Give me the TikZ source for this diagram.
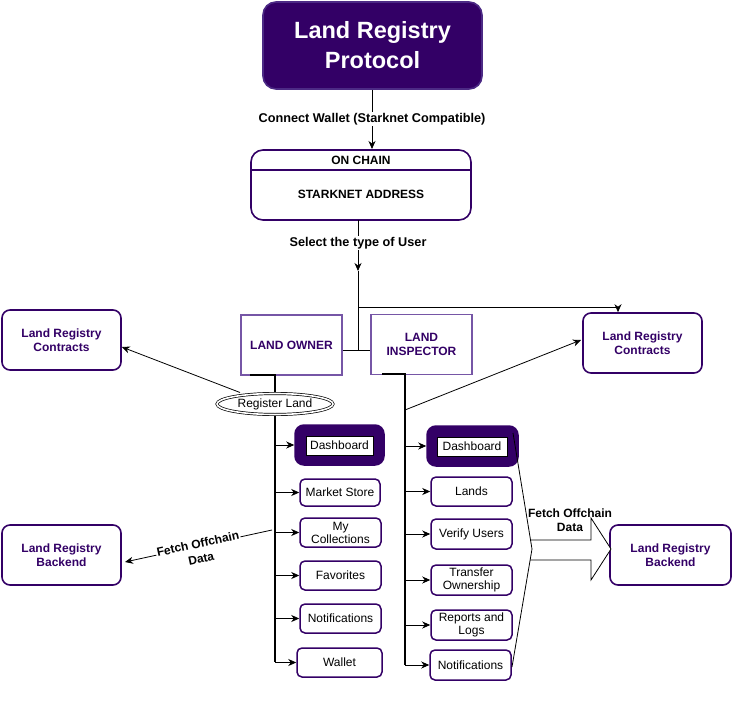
\documentclass[tikz,border=0pt]{standalone}
\usepackage{fontspec}
\setmainfont{Liberation Sans}
\usetikzlibrary{shapes.geometric,arrows.meta,calc}
\definecolor{dpurple}{HTML}{330066}
\definecolor{bpurple}{HTML}{4C2A85}
\definecolor{lpurple}{HTML}{7656A6}
\tikzset{
  box/.style={draw=dpurple,line width=1.6pt,rounded corners=8pt,fill=white,minimum width=#1,align=center,inner sep=1pt,text=dpurple,font=\bfseries\fontsize{12}{14.5}\selectfont},
  ubox/.style={draw=lpurple,line width=1.6pt,fill=white,minimum width=101,minimum height=60,align=center,inner sep=1pt,text=dpurple,font=\bfseries\fontsize{12}{14.5}\selectfont},
  item/.style={draw=dpurple,line width=1.5pt,rounded corners=5pt,fill=white,minimum width=#1,minimum height=29,align=center,inner sep=0pt,font=\fontsize{12}{14}\selectfont},
  dash/.style={draw=dpurple,line width=1.5pt,rounded corners=9pt,fill=dpurple,minimum width=#1,minimum height=40,inner sep=0pt},
  inner/.style={draw=black,line width=0.6pt,fill=white,minimum width=#1,minimum height=19,inner sep=0pt,font=\fontsize{12}{14}\selectfont},
  lbl/.style={font=\bfseries\fontsize{12.7}{14}\selectfont,fill=white,inner sep=1pt,align=center},
  arr/.style={-{Stealth[length=8pt,width=7pt,inset=2.5pt]},line width=0.8pt},
  spine/.style={line width=1.8pt},
}
\begin{document}
\begin{tikzpicture}[x=1pt,y=-1pt]
\useasboundingbox (0,0) rectangle (732,701);
% title
\node[draw=bpurple,line width=1.6pt,fill=dpurple,rounded corners=13pt,minimum width=219,minimum height=87,text=white,align=center,font=\bfseries\fontsize{23.5}{30}\selectfont] (title) at (372.5,45.5) {Land Registry\\Protocol};
% on chain
\node[draw=dpurple,line width=1.6pt,rounded corners=12pt,minimum width=220,minimum height=70] (oc) at (361,185) {};
\draw[dpurple,line width=1.6pt] (251,170) -- (471,170);
\node[font=\bfseries\fontsize{12}{14}\selectfont] (octitle) at (361,160) {ON CHAIN};
\node[font=\bfseries\fontsize{12}{14}\selectfont] (ocaddr) at (361,194.5) {STARKNET ADDRESS};
% title -> on chain
\draw[arr] (title.south -| 372,0) -- node[lbl] (cw) {Connect Wallet (Starknet Compatible)} (372,149);
% users
\node[ubox] (lo) at (291.5,345) {LAND OWNER};
\node[ubox] (li) at (421.5,344.5) {LAND\\INSPECTOR};
% contracts / backend
\node[box=119pt,minimum height=60] (lrcL) at (61.5,340) {Land Registry\\Contracts};
\node[box=119pt,minimum height=60] (lrcR) at (642.5,343) {Land Registry\\Contracts};
\node[box=119pt,minimum height=60] (lrbL) at (61.5,555) {Land Registry\\Backend};
\node[box=121pt,minimum height=60] (lrbR) at (670.5,555) {Land Registry\\Backend};
% select type
\coordinate (sel) at (358,271);
\coordinate (jn) at (358,350);
\draw[arr] (358,220) -- node[lbl,pos=0.45] (st) {Select the type of User} (sel);
\draw[line width=0.8pt] (sel) -- (jn);
\draw[line width=0.8pt] (lo.east |- jn) -- (li.west |- jn);
\draw[arr] (358,307) -| (lrcR.north -| 618,0);
% spines
\coordinate (sL) at (275,375);
\coordinate (sR) at (405,374);
\draw[spine] (250,375) -- (sL) -- (275,662);
\draw[spine] (382,374) -- (sR) -- (405,665);
% left items
\node[dash=89pt] (dashL) at (339.5,445) {};
\node[inner=67pt] (dashLi) at (339.5,445.5) {Dashboard};
\node[item=80pt,minimum height=27] (ms) at (340,492.5) {Market Store};
\node[item=81pt,font=\fontsize{12}{13}\selectfont] (mc) at (340.5,532.5) {My\\Collections};
\node[item=81pt] (fav) at (340.5,575.5) {Favorites};
\node[item=81pt] (notL) at (340.5,618.5) {Notifications};
\node[item=85pt] (wal) at (339.5,662.5) {Wallet};
\foreach \n in {dashL,ms,mc,fav,notL,wal}
  \draw[arr] (sL |- \n.west) -- (\n.west);
% right items
\node[dash=91pt] (dashR) at (472.5,446) {};
\node[inner=70pt] (dashRi) at (472,446.5) {Dashboard};
\node[item=81pt] (lands) at (471.5,491.5) {Lands};
\node[item=81pt,minimum height=30] (vu) at (471.5,534) {Verify Users};
\node[item=81pt,minimum height=30,font=\fontsize{12}{13}\selectfont] (to) at (471.5,580) {Transfer\\Ownership};
\node[item=81pt,minimum height=30,font=\fontsize{12}{13}\selectfont] (rl) at (471.5,625) {Reports and\\Logs};
\node[item=81pt,minimum height=30] (notR) at (470.5,665) {Notifications};
\foreach \n in {dashR,lands,vu,to,rl,notR}
  \draw[arr] (sR |- \n.west) -- (\n.west);
% register land
\node[draw,ellipse,double,double distance=1.6pt,line width=0.7pt,fill=white,minimum width=116,minimum height=21,inner sep=0pt,font=\fontsize{12}{14}\selectfont] (rland) at (275,404) {Register Land};
\draw[arr] (240,392.5) -- (lrcL.east |- 0,347);
\draw[arr] (405,410) -- (581,340);
% fetch offchain (left)
\coordinate (fl) at (272,530);
\coordinate (flend) at (125,562);
\draw[arr] (fl) -- (flend);
\node[lbl,rotate=12.3,font=\bfseries\fontsize{12}{15}\selectfont] (fol) at ($(fl)!0.5!(flend)+(1,5)$) {Fetch Offchain\\Data};
% fetch offchain (right) big arrow
\draw[line width=0.8pt,fill=white] (530,540) -- (591,540) -- (591,518) -- (611,549) -- (591,580) -- (591,560) -- (530,560);
\draw[line width=0.8pt] (513,433) -- (532,549) -- (512,667);
\node[font=\bfseries\fontsize{12}{14}\selectfont,align=center] (for) at (570,520.5) {Fetch Offchain\\Data};
\end{tikzpicture}
\end{document}
